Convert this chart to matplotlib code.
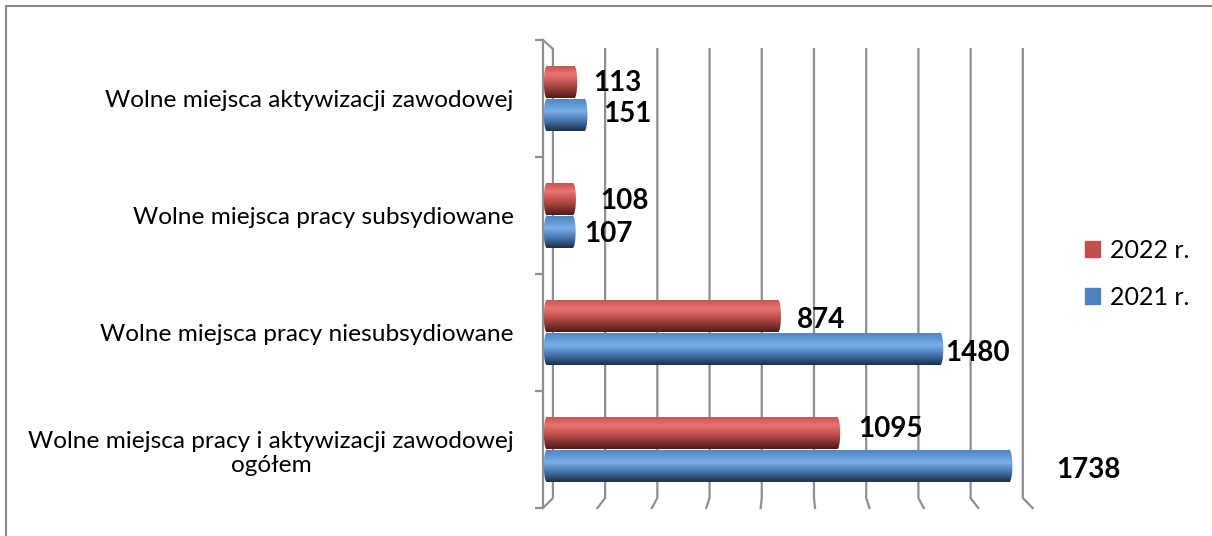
import numpy as np
import matplotlib.pyplot as plt
from matplotlib.colors import LinearSegmentedColormap
from matplotlib.patches import Rectangle, Ellipse, Patch

# categories from bottom to top
categories = ['Wolne miejsca pracy i aktywizacji zawodowej\nogółem',
              'Wolne miejsca pracy niesubsydiowane',
              'Wolne miejsca pracy subsydiowane',
              'Wolne miejsca aktywizacji zawodowej']
v2022 = [1095, 874, 108, 113]
v2021 = [1738, 1480, 107, 151]
years = ['2022 r.', '2021 r.']
grid_vals = np.arange(0, 1801, 200)

# label nudges in px (dx, dy) - Excel put them a bit all over the place
off2022 = [(18, 4), (16, -4), (24, -2), (16, -1)]
off2021 = [(44, -4), (2, -4), (9, -2), (16, 1)]

plt.rcParams['font.family'] = ['Lato', 'DejaVu Sans']

W, H = 1212, 536
fig = plt.figure(figsize=(W / 100, H / 100), dpi=100)
ax = fig.add_axes([543 / W, 28 / H, 490 / W, 468 / H])

red_cm = LinearSegmentedColormap.from_list('r', [(0, '#c3524f'), (0.28, '#ea7471'),
                                                  (0.6, '#b44b48'), (1, '#4e1c1b')])
blue_cm = LinearSegmentedColormap.from_list('b', [(0, '#4f82c0'), (0.4, '#78aeea'),
                                                   (0.7, '#4674ab'), (1, '#1c2f4a')])
grad = np.linspace(0, 1, 80).reshape(-1, 1)


def cylinder(x, y, h, cmap):
    cap = 24
    shapes = [Rectangle((0, y - h / 2), x - cap / 2, h),
              Ellipse((0, y), cap, h),
              Ellipse((x - cap / 2, y), cap, h)]
    for s in shapes:
        s.set_facecolor('none')
        s.set_edgecolor('none')
        ax.add_patch(s)
        im = ax.imshow(grad, cmap=cmap, extent=(-cap, x + cap, y - h / 2, y + h / 2),
                       aspect='auto', origin='upper', zorder=3, interpolation='bilinear')
        im.set_clip_path(s)


# 3d-ish grid: back wall lines plus slanted floor bits
gc = '#8f8f8f'
ytop, yback, yfront = 3.423, -0.415, -0.5
for v in grid_vals:
    xb = 22 + v * 0.975
    xf = -15 + v * 1.016
    ax.plot([xb, xb, xf], [ytop, yback, yfront], color=gc, lw=1.6, clip_on=False, zorder=1)
ax.plot([-15, -15], [-0.5, 3.5], color=gc, lw=1.6, clip_on=False, zorder=1)
ax.plot([-15, 22], [3.5, ytop], color=gc, lw=1.6, clip_on=False, zorder=1)

bh = 0.28
for i in range(len(categories)):
    cylinder(v2022[i], i + 0.14, bh, red_cm)
    cylinder(v2021[i], i - 0.14, bh, blue_cm)
    ax.annotate(str(v2022[i]), (v2022[i], i + 0.14), xytext=(off2022[i][0] * 0.72, off2022[i][1] * 0.72),
                textcoords='offset points', ha='left', va='center', fontsize=20, fontweight='bold')
    ax.annotate(str(v2021[i]), (v2021[i], i - 0.14), xytext=(off2021[i][0] * 0.72, off2021[i][1] * 0.72),
                textcoords='offset points', ha='left', va='center', fontsize=20, fontweight='bold')

ax.set_xlim(-15, 1815)
ax.set_ylim(-0.5, 3.5)
for s in ax.spines.values():
    s.set_visible(False)
ax.set_xticks([])
ax.set_yticks(np.arange(-0.5, 4, 1))
ax.set_yticklabels([])
ax.tick_params(axis='y', which='major', length=6, width=1.6, color=gc, direction='out')
ax.set_yticks(range(len(categories)), minor=True)
ax.set_yticklabels(categories, minor=True, fontsize=17.6)
ax.tick_params(axis='y', which='minor', length=0, pad=21)
for t in ax.get_yticklabels(minor=True):
    t.set_multialignment('center')

fig.legend(handles=[Patch(color='#C0504D'), Patch(color='#4F81BD')], labels=years,
           loc='center left', bbox_to_anchor=(1062 / W, 1 - 274 / H), frameon=False,
           handlelength=0.62, handleheight=0.62, handletextpad=0.4, labelspacing=0.95, fontsize=18)

# outer frame (only top/left show in the crop)
fig.add_artist(Rectangle((6 / W, -0.1), 1.2, 1 - 6 / H + 0.1, transform=fig.transFigure,
                         fill=False, edgecolor='#8a8a8a', lw=1.5))

fig.savefig('out.png', dpi=100)
